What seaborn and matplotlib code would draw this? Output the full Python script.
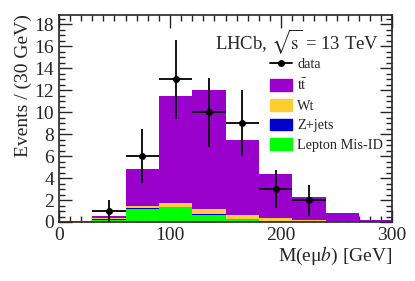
import numpy as np
import pandas as pd
import matplotlib
matplotlib.use("Agg")
import matplotlib.pyplot as plt
import matplotlib.patches as mpatches
from matplotlib.lines import Line2D
from matplotlib.ticker import MultipleLocator
import seaborn as sns

# bins of 30 GeV, 0-300
bin_edges = [0, 30, 60, 90, 120, 150, 180, 210, 240, 270, 300]
bin_centres = [15, 45, 75, 105, 135, 165, 195, 225, 255, 285]

misid = [0.05, 0.2, 1.15, 1.35, 0.68, 0.3, 0.12, 0.08, 0.07, 0.05]
zjets = [0.0, 0.05, 0.15, 0.03, 0.02, 0.01, 0.01, 0.0, 0.0, 0.0]
wt = [0.0, 0.1, 0.15, 0.38, 0.5, 0.3, 0.2, 0.1, 0.03, 0.0]
total = [0.05, 0.55, 4.8, 11.5, 12.0, 7.45, 4.4, 2.3, 0.84, 0.2]
ttbar = [t - a - b - c for t, a, b, c in zip(total, misid, zjets, wt)]

data_x = [45, 75, 105, 135, 165, 195, 225]
data_y = [1, 6, 13, 10, 9, 3, 2]
data_err = [1.0, 2.45, 3.6, 3.16, 3.0, 1.73, 1.41]

labels = [r"$\mathrm{t\bar{t}}$", "Wt", "Z+jets", "Lepton Mis-ID"]
colours = ["#9900cc", "#ffcc33", "#0000cc", "#00ff00"]

rows = []
for lab, vals in zip(labels, [ttbar, wt, zjets, misid]):
    for x, v in zip(bin_centres, vals):
        rows.append({"m": x, "w": v, "comp": lab})
df = pd.DataFrame(rows)

sns.set_style("ticks")
plt.rcParams["font.family"] = ["Liberation Serif", "DejaVu Serif"]
plt.rcParams["mathtext.fontset"] = "stix"

fig = plt.figure(figsize=(4.15, 2.81), dpi=100)
ax = fig.add_axes([0.142, 0.21, 0.803, 0.738])

sns.histplot(data=df, x="m", weights="w", hue="comp", hue_order=labels,
             palette=colours, bins=bin_edges, multiple="stack",
             element="bars", alpha=1, linewidth=0, legend=False, ax=ax)

ax.errorbar(data_x, data_y, xerr=15, yerr=data_err, fmt="o", color="black",
            markersize=4, elinewidth=1.3, capsize=0)

ax.set_xlim(0, 300)
ax.set_ylim(0, 18.9)
ax.xaxis.set_major_locator(MultipleLocator(100))
ax.xaxis.set_minor_locator(MultipleLocator(10))
ax.yaxis.set_major_locator(MultipleLocator(2))
ax.yaxis.set_minor_locator(MultipleLocator(0.5))
ax.tick_params(which="both", direction="in", top=True, right=True,
               labelsize=14, width=1)
ax.tick_params(which="major", length=9)
ax.tick_params(which="minor", length=4.5)
for s in ax.spines.values():
    s.set_linewidth(1.2)

ax.set_xlabel("M(eμ$b$) [GeV]", fontsize=14, loc="right", labelpad=1)
ax.set_ylabel("Events / (30 GeV)", fontsize=14, loc="top", labelpad=2)

ax.text(0.96, 0.87, r"LHCb, $\sqrt{\mathrm{s}}$ = 13 TeV", transform=ax.transAxes,
        ha="right", va="center", fontsize=13.5)

handles = [Line2D([0], [0], color="black", marker="o", markersize=4, lw=1.3)]
handles += [mpatches.Patch(color=c) for c in colours]
ax.legend(handles, ["data"] + labels, loc="upper left",
          bbox_to_anchor=(0.634, 0.795), frameon=False, fontsize=10.3,
          handlelength=1.55, handleheight=0.9, labelspacing=0.42,
          handletextpad=0.35, borderpad=0, borderaxespad=0)

fig.savefig("out.png", dpi=100)
